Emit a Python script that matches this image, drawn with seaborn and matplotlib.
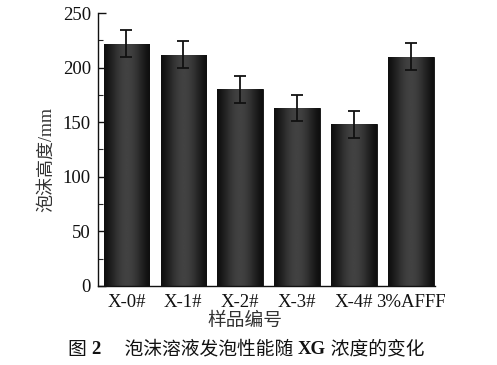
import numpy as np
import pandas as pd
import matplotlib
matplotlib.use("Agg")
import matplotlib.pyplot as plt
import seaborn as sns
from matplotlib.ticker import MultipleLocator

categories = ["X-0#", "X-1#", "X-2#", "X-3#", "X-4#", "3%AFFF"]
heights = [222, 212, 180, 163, 148, 210]
errors = [12.5, 12.5, 12.5, 12, 12.5, 12.5]

sns.set_theme(style="white")
plt.rcParams['font.family'] = ['Liberation Serif', 'Noto Sans CJK SC']

df = pd.DataFrame({"cat": categories, "h": heights, "err": errors})

fig = plt.figure(figsize=(4.97, 3.65), dpi=100)
ax = fig.add_axes([0.197, 0.217, 0.678, 0.747])

sns.barplot(data=df, x="cat", y="h", color="#1a1a1a", width=0.8, ax=ax,
            edgecolor="#0a0a0a", linewidth=0.6, errorbar=None, zorder=2)

# cylinder-like gradient fill, clipped to each bar
grad = np.linspace(0, 1, 256)
prof = 0.06 + 0.20 * np.sin(np.pi * grad) ** 1.5
img = np.tile(prof, (2, 1))
cmap = matplotlib.colors.LinearSegmentedColormap.from_list("g", ["#000000", "#ffffff"])
for p in list(ax.patches):
    x0, y0 = p.get_x(), p.get_y()
    w, h = p.get_width(), p.get_height()
    im = ax.imshow(img, cmap=cmap, vmin=0, vmax=1, aspect="auto",
                   extent=(x0, x0 + w, y0, y0 + h), zorder=2.5, interpolation="bilinear")
    im.set_clip_path(p)

ax.errorbar(np.arange(len(categories)), heights, yerr=errors, fmt="none",
            ecolor="#111111", elinewidth=1.3, capsize=4, capthick=1.3, zorder=4)

ax.set_xlim(-0.5, 5.42)
ax.set_ylim(0, 250)
ax.yaxis.set_major_locator(MultipleLocator(50))
ax.yaxis.set_minor_locator(MultipleLocator(25))
ax.tick_params(axis="y", which="major", direction="in", length=6, width=1,
               left=True, labelsize=13.5, colors="#111111", pad=5)
ax.tick_params(axis="y", which="minor", direction="in", length=3.5, width=0.8, left=True)
ax.tick_params(axis="x", length=0, labelsize=13.5, pad=6, colors="#111111")

for s in ["top", "right"]:
    ax.spines[s].set_visible(False)
for s in ["left", "bottom"]:
    ax.spines[s].set_color("#111111")
    ax.spines[s].set_linewidth(1.0)

ax.set_xlabel("样品编号", fontsize=13.5, color="#333333")
ax.set_ylabel("泡沫高度/mm", fontsize=13, color="#333333")
ax.xaxis.set_label_coords(0.436, -0.132)
ax.xaxis.label.set_va("center")
ax.yaxis.set_label_coords(-0.152, 0.465)
ax.yaxis.label.set_va("center")

# caption with mixed weights
parts = [("图 ", "normal"), ("2", "bold"), ("　 泡沫溶液发泡性能随 ", "normal"),
         ("XG", "bold"), (" 浓度的变化", "normal")]
t = fig.text(68 / 497, 1 - 350 / 365, parts[0][0], ha="left", va="center",
             fontsize=13.5, color="#111111", fontweight=parts[0][1])
for txt, wt in parts[1:]:
    t = ax.annotate(txt, xycoords=t, xy=(1, 0.5), va="center", ha="left",
                    fontsize=13.5, color="#111111", fontweight=wt,
                    annotation_clip=False)

fig.savefig("out.png", dpi=100, facecolor="white")
